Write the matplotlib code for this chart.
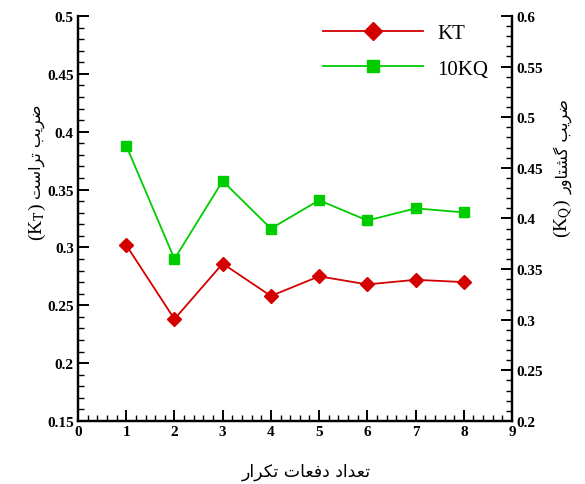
'''
Thrust and torque coefficients vs number of iterations
'''
import matplotlib
matplotlib.use('Agg')
import matplotlib.pyplot as plt
from matplotlib.ticker import MultipleLocator
from matplotlib.lines import Line2D

# data
iterations = [1, 2, 3, 4, 5, 6, 7, 8]
kt = [0.302, 0.238, 0.286, 0.258, 0.275, 0.268, 0.272, 0.270]
kq10 = [0.472, 0.360, 0.437, 0.390, 0.418, 0.398, 0.410, 0.406]

x_label = 'تعداد دفعات تکرار'
left_label = 'ضریب تراست'
right_label = 'ضریب گشتاور'

# arabic presentation forms: isolated, final, initial, medial
FORMS = {
    'ت': ('\uFE95', '\uFE96', '\uFE97', '\uFE98'),
    'ع': ('\uFEC9', '\uFECA', '\uFECB', '\uFECC'),
    'ف': ('\uFED1', '\uFED2', '\uFED3', '\uFED4'),
    'ک': ('\uFB8E', '\uFB8F', '\uFB90', '\uFB91'),
    'گ': ('\uFB92', '\uFB93', '\uFB94', '\uFB95'),
    'ض': ('\uFEBD', '\uFEBE', '\uFEBF', '\uFEC0'),
    'ی': ('\uFBFC', '\uFBFD', '\uFBFE', '\uFBFF'),
    'ب': ('\uFE8F', '\uFE90', '\uFE91', '\uFE92'),
    'س': ('\uFEB1', '\uFEB2', '\uFEB3', '\uFEB4'),
    'ش': ('\uFEB5', '\uFEB6', '\uFEB7', '\uFEB8'),
    'د': ('\uFEA9', '\uFEAA'),
    'ا': ('\uFE8D', '\uFE8E'),
    'ر': ('\uFEAD', '\uFEAE'),
    'و': ('\uFEED', '\uFEEE'),
}


def shape(text):
    """joins letters and puts them in visual (left to right) order"""
    out = []
    for i, ch in enumerate(text):
        if ch not in FORMS:
            out.append(ch)
            continue
        prev = text[i - 1] if i > 0 else ''
        nxt = text[i + 1] if i + 1 < len(text) else ''
        join_prev = prev in FORMS and len(FORMS[prev]) == 4
        join_next = nxt in FORMS and len(FORMS[ch]) == 4
        f = FORMS[ch]
        if join_prev and join_next:
            out.append(f[3])
        elif join_prev:
            out.append(f[1])
        elif join_next:
            out.append(f[2])
        else:
            out.append(f[0])
    return ''.join(reversed(out))


plt.rcParams['font.family'] = ['Liberation Serif', 'DejaVu Sans']
plt.rcParams['mathtext.fontset'] = 'stix'

red = '#d40000'
green = '#00cc00'

fig = plt.figure(figsize=(5.85, 4.85), dpi=100)
ax = fig.add_axes([0.1333, 0.130, 0.742, 0.835])
ax2 = ax.twinx()

ax.plot(iterations, kt, color=red, lw=1.3, marker='D', ms=7.5, mec=red, mfc=red)
ax2.plot(iterations, kq10, color=green, lw=1.3, marker='s', ms=7, mec=green, mfc=green)

ax.set_xlim(0, 9)
ax.set_ylim(0.15, 0.5)
ax2.set_ylim(0.2, 0.6)

ax.xaxis.set_major_locator(MultipleLocator(1))
ax.xaxis.set_minor_locator(MultipleLocator(0.2))
ax.yaxis.set_major_locator(MultipleLocator(0.05))
ax.yaxis.set_minor_locator(MultipleLocator(0.01))
ax2.yaxis.set_major_locator(MultipleLocator(0.05))
ax2.yaxis.set_minor_locator(MultipleLocator(0.01))

ax.yaxis.set_major_formatter(plt.FuncFormatter(lambda v, p: ('%.2f' % v).rstrip('0')))
ax2.yaxis.set_major_formatter(plt.FuncFormatter(lambda v, p: ('%.2f' % v).rstrip('0')))

for a in (ax, ax2):
    a.spines['top'].set_visible(False)
    for s in a.spines.values():
        s.set_linewidth(1.6)
    a.tick_params(which='major', direction='in', length=8, width=1.4,
                  labelsize=11, pad=3)
    a.tick_params(which='minor', direction='in', length=4, width=1.0)
    for lab in a.get_xticklabels() + a.get_yticklabels():
        lab.set_fontweight('bold')
ax.tick_params(axis='y', right=False, which='both')
ax.tick_params(axis='x', top=False, which='both')

# legend
handles = [
    Line2D([], [], color=red, lw=1.3, marker='D', ms=9.5, mec=red, mfc=red),
    Line2D([], [], color=green, lw=1.3, marker='s', ms=8.5, mec=green, mfc=green),
]
leg = ax2.legend(handles, ['KT', '10KQ'], loc='upper right', frameon=False,
                 fontsize=15, handlelength=4.8, numpoints=1,
                 bbox_to_anchor=(0.988, 1.027), labelspacing=0.75, handletextpad=0.7)

# axis titles
fig.text(306 / 585, 1 - 472 / 485, shape(x_label), family='DejaVu Sans',
         fontsize=12.5, ha='center', va='center')

kt_txt = fig.text(37 / 585, 1 - 241 / 485, r'(K$_{\mathrm{T}}$)', fontsize=14,
                  rotation=90, ha='center', va='bottom')
ax.annotate(shape(left_label), xy=(0.5, 1), xycoords=kt_txt, xytext=(0, 3),
            textcoords='offset points', family='DejaVu Sans', fontsize=11.5,
            rotation=90, ha='center', va='bottom', annotation_clip=False)

kq_txt = fig.text(563 / 585, 1 - 238 / 485, r'(K$_{\mathrm{Q}}$)', fontsize=14,
                  rotation=90, ha='center', va='bottom')
ax.annotate(shape(right_label), xy=(0.5, 1), xycoords=kq_txt, xytext=(0, 3),
            textcoords='offset points', family='DejaVu Sans', fontsize=11.5,
            rotation=90, ha='center', va='bottom', annotation_clip=False)

fig.savefig('out.png', dpi=100)
